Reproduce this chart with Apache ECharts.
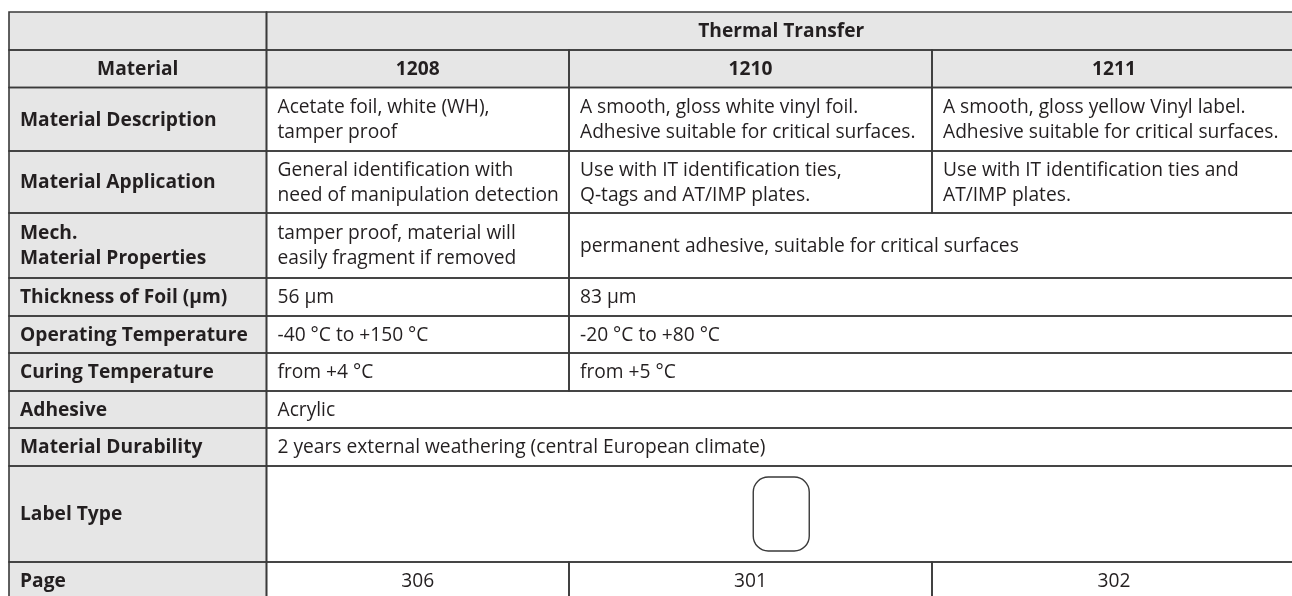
<!DOCTYPE html>
<html>
<head>
<meta charset="utf-8">
<script src="https://cdn.jsdelivr.net/npm/echarts@6/dist/echarts.min.js"></script>
<style>
  html, body { margin: 0; padding: 0; background: #fff; }
  #chart { width: 1292px; height: 596px; }
</style>
</head>
<body>
<div id="chart"></div>
<script>
// table content
const groupTitle = 'Thermal Transfer';
const headLabel = 'Material';
const materials = ['1208', '1210', '1211'];
const rowLabels = [
  'Material Description',
  'Material Application',
  'Mech.\nMaterial Properties',
  'Thickness of Foil (µm)',
  'Operating Temperature',
  'Curing Temperature',
  'Adhesive',
  'Material Durability',
  'Label Type',
  'Page'
];
// one entry per material, or fewer when the last cell is shared
const descriptions = [
  'Acetate foil, white (WH),\ntamper proof',
  'A smooth, gloss white vinyl foil.\nAdhesive suitable for critical surfaces.',
  'A smooth, gloss yellow Vinyl label.\nAdhesive suitable for critical surfaces.'
];
const applications = [
  'General identification with\nneed of manipulation detection',
  'Use with IT identification ties,\nQ-tags and AT/IMP plates.',
  'Use with IT identification ties and\nAT/IMP plates.'
];
const mechProps = ['tamper proof, material will\neasily fragment if removed', 'permanent adhesive, suitable for critical surfaces'];
const thickness = ['56 µm', '83 µm'];
const operatingTemp = ['-40 °C to +150 °C', '-20 °C to +80 °C'];
const curingTemp = ['from +4 °C', 'from +5 °C'];
const adhesive = ['Acrylic'];
const durability = ['2 years external weathering (central European climate)'];
const labelType = ['[label]'];
const pages = ['306', '301', '302'];

const bodyRows = [descriptions, applications, mechProps, thickness, operatingTemp, curingTemp, adhesive, durability, labelType, pages];

// layout
const colWidths = [257.5, 302.5, 363, 364];
const rowHeights = [38, 37.5, 63.5, 62, 65, 38, 37, 38, 37, 38, 96, 38];
const GRAY = '#e6e6e6';
const INK = '#231f20';
const LINE = '#3a3a3a';
const FONT_SIZE = 19.2;

const colEdges = [0];
colWidths.forEach(w => colEdges.push(colEdges[colEdges.length - 1] + w));
const rowEdges = [0];
rowHeights.forEach(h => rowEdges.push(rowEdges[rowEdges.length - 1] + h));

// build cells: [c0, c1, row, text, kind]
const cells = [];
cells.push([0, 1, 0, '', 'head']);
cells.push([1, 4, 0, groupTitle, 'head']);
cells.push([0, 1, 1, headLabel, 'head']);
materials.forEach((m, i) => cells.push([i + 1, i + 2, 1, m, 'head']));
bodyRows.forEach((vals, r) => {
  const row = r + 2;
  cells.push([0, 1, row, rowLabels[r], 'label']);
  vals.forEach((v, i) => {
    const c0 = i + 1;
    const c1 = i === vals.length - 1 ? 4 : i + 2;
    let kind = 'body';
    if (vals === pages) kind = 'page';
    if (vals === labelType) kind = 'icon';
    cells.push([c0, c1, row, v, kind]);
  });
});

const seriesData = cells.map(c => [colEdges[c[0]], rowEdges[c[2]], colEdges[c[1]], rowEdges[c[2] + 1]]);

function renderCell(params, api) {
  const c = cells[params.dataIndex];
  const p0 = api.coord([api.value(0), api.value(1)]);
  const p1 = api.coord([api.value(2), api.value(3)]);
  const x = p0[0], y = p0[1], w = p1[0] - p0[0], h = p1[1] - p0[1];
  const gray = c[4] === 'head' || c[4] === 'label';
  const children = [
    { type: 'rect', shape: { x, y, width: w, height: h }, style: { fill: gray ? GRAY : '#fff' }, z2: 0 },
    { type: 'rect', shape: { x, y, width: w, height: h }, style: { fill: null, stroke: LINE, lineWidth: 1.6 }, z2: 10 }
  ];
  if (c[4] === 'icon') {
    // rounded label outline in the middle of the cell
    const iw = 56, ih = 74;
    children.push({
      type: 'rect',
      shape: { x: x + w / 2 - iw / 2, y: y + h / 2 - ih / 2, width: iw, height: ih, r: 15 },
      style: { fill: '#fff', stroke: LINE, lineWidth: 1.4 },
      z2: 5
    });
  } else if (c[3]) {
    const center = c[4] === 'head' || c[4] === 'page';
    const bold = c[4] === 'head' || c[4] === 'label';
    children.push({
      type: 'text',
      style: {
        text: c[3],
        x: center ? x + w / 2 : x + 11,
        y: y + h / 2 + 1,
        align: center ? 'center' : 'left',
        verticalAlign: 'middle',
        font: (bold ? 'bold ' : '') + FONT_SIZE + 'px "Open Sans"',
        lineHeight: 25,
        fill: INK
      },
      z2: 5
    });
  }
  return { type: 'group', children };
}

const chart = echarts.init(document.getElementById('chart'));
chart.setOption({
  animation: false,
  grid: {
    left: 9, top: 12,
    width: colEdges[4], height: rowEdges[rowEdges.length - 1],
    outerBoundsMode: 'none', containLabel: false
  },
  xAxis: { type: 'value', min: 0, max: colEdges[4], show: false },
  yAxis: { type: 'value', min: 0, max: rowEdges[rowEdges.length - 1], inverse: true, show: false },
  series: [{
    type: 'custom',
    renderItem: renderCell,
    data: seriesData,
    encode: { x: [0, 2], y: [1, 3] },
    clip: false,
    silent: true
  }]
});
</script>
</body>
</html>
